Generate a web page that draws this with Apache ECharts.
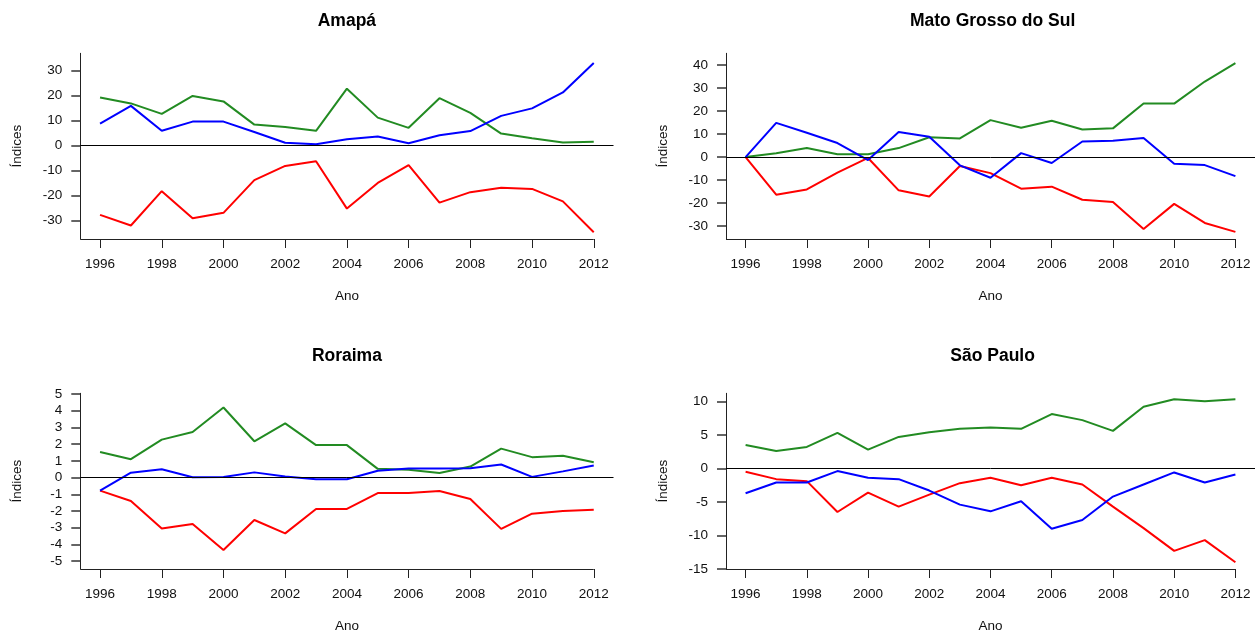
<!DOCTYPE html>
<html>
<head>
<meta charset="utf-8">
<script src="https://cdn.jsdelivr.net/npm/echarts@6/dist/echarts.min.js"></script>
<style>
html,body{margin:0;padding:0;background:#fff;}
#chart{width:1255px;height:634px;}
</style>
</head>
<body>
<div id="chart"></div>
<script>
// ---- data ----
const years = [1996,1997,1998,1999,2000,2001,2002,2003,2004,2005,2006,2007,2008,2009,2010,2011,2012];
const xTickValues = [1996,1998,2000,2002,2004,2006,2008,2010,2012];
const titles = ['Amapá','Mato Grosso do Sul','Roraima','São Paulo'];

const amapaGreen = [19.3,16.9,12.7,19.9,17.7,8.4,7.4,5.9,22.8,11.2,7.1,19.0,13.1,4.8,2.9,1.2,1.5];
const amapaBlue  = [8.8,15.9,5.9,9.6,9.6,5.4,1.1,0.5,2.5,3.6,0.9,4.1,5.8,11.9,14.9,21.3,33.1];
const amapaRed   = [-27.8,-32.1,-18.3,-29.2,-27.0,-13.9,-8.2,-6.3,-25.3,-15.0,-7.9,-22.9,-18.7,-16.9,-17.4,-22.4,-34.8];
const amapaYTicks = [-30,-20,-10,0,10,20,30];

const msGreen = [0,1.7,3.9,1.2,1.2,3.9,8.6,8.1,16.1,12.8,15.8,12.0,12.5,23.3,23.3,32.9,40.9];
const msBlue  = [0,14.9,10.6,6.1,-1.3,10.9,8.8,-3.6,-9.0,1.7,-2.6,6.8,7.1,8.3,-2.9,-3.5,-8.3];
const msRed   = [0,-16.4,-14.1,-6.8,-0.4,-14.5,-17.2,-3.9,-7.0,-13.8,-12.9,-18.6,-19.6,-31.3,-20.4,-28.7,-32.6];
const msYTicks = [-30,-20,-10,0,10,20,30,40];

const roraimaGreen = [1.53,1.1,2.27,2.72,4.19,2.17,3.24,1.94,1.94,0.52,0.47,0.27,0.66,1.73,1.22,1.3,0.91];
const roraimaBlue  = [-0.78,0.29,0.5,0.02,0.04,0.31,0.06,-0.1,-0.1,0.41,0.54,0.54,0.56,0.78,0.04,0.37,0.72];
const roraimaRed   = [-0.78,-1.4,-3.05,-2.78,-4.33,-2.54,-3.34,-1.88,-1.88,-0.93,-0.93,-0.8,-1.28,-3.07,-2.16,-2.0,-1.92];
const roraimaYTicks = [-5,-4,-3,-2,-1,0,1,2,3,4,5];

const spGreen = [3.5,2.6,3.2,5.3,2.8,4.7,5.4,5.9,6.1,5.9,8.1,7.2,5.6,9.2,10.3,10.0,10.3];
const spBlue  = [-3.7,-2.1,-2.1,-0.4,-1.4,-1.6,-3.3,-5.4,-6.4,-4.9,-9.0,-7.7,-4.2,-2.4,-0.6,-2.1,-0.9];
const spRed   = [-0.5,-1.6,-1.9,-6.5,-3.6,-5.7,-3.9,-2.2,-1.4,-2.5,-1.4,-2.4,-5.7,-8.9,-12.3,-10.7,-14.0];
const spYTicks = [-15,-10,-5,0,5,10];

// ---- layout / styling ----
const FONT = '"Liberation Sans", Arial, Helvetica, sans-serif';
const xMin = 1995.36, xMax = 2012.64;
const panels = [
  {title: titles[0], g: amapaGreen, b: amapaBlue, r: amapaRed, ticks: amapaYTicks, yMin: -37.5, yMax: 37.0,
   left: 80.3, top: 53.3, height: 185.7, titleY: 21.5},
  {title: titles[1], g: msGreen, b: msBlue, r: msRed, ticks: msYTicks, yMin: -35.7, yMax: 45.2,
   left: 726, top: 53.3, height: 185.7, titleY: 21.5},
  {title: titles[2], g: roraimaGreen, b: roraimaBlue, r: roraimaRed, ticks: roraimaYTicks, yMin: -5.47, yMax: 5.04,
   left: 80.3, top: 393.3, height: 179.7, titleY: 356},
  {title: titles[3], g: spGreen, b: spBlue, r: spRed, ticks: spYTicks, yMin: -15, yMax: 11.2,
   left: 726, top: 393.3, height: 179.7, titleY: 356}
];
const plotWidth = 533.2;

function pairs(vals){ return years.map((y,i)=>[y, vals[i]]); }

const grid = [], xAxis = [], yAxis = [], series = [], graphic = [];
panels.forEach((p, i) => {
  grid.push({left: p.left, top: p.top, width: plotWidth, height: p.height, containLabel: false});
  xAxis.push({
    type: 'value', gridIndex: i, min: xMin, max: xMax, position: 'bottom',
    axisLine: {show: false, onZero: false},
    axisTick: {show: true, length: 9, lineStyle: {color: '#222', width: 1}, customValues: xTickValues},
    axisLabel: {show: true, customValues: xTickValues, formatter: v => String(v), fontSize: 13.5,
      color: '#111', margin: 18, fontFamily: FONT},
    splitLine: {show: false},
    name: 'Ano', nameLocation: 'middle', nameGap: 50,
    nameTextStyle: {fontSize: 13.5, color: '#111', fontFamily: FONT}
  });
  yAxis.push({
    type: 'value', gridIndex: i, min: p.yMin, max: p.yMax, position: 'left',
    axisLine: {show: true, onZero: false, lineStyle: {color: '#222', width: 1}},
    axisTick: {show: true, length: 9, lineStyle: {color: '#333', width: 1.5}, customValues: p.ticks},
    axisLabel: {show: true, customValues: p.ticks, formatter: v => String(v), fontSize: 13.5,
      color: '#111', margin: 18, fontFamily: FONT},
    splitLine: {show: false},
    name: 'Índices', nameLocation: 'middle', nameGap: 56, nameRotate: 90,
    nameTextStyle: {fontSize: 13.5, color: '#111', fontFamily: FONT}
  });
  const mk = (name, vals, color, extra) => Object.assign({
    type: 'line', name: name, xAxisIndex: i, yAxisIndex: i, data: pairs(vals),
    showSymbol: false, symbol: 'none', clip: false, animation: false,
    lineStyle: {color: color, width: 2}, itemStyle: {color: color}
  }, extra || {});
  series.push(mk('red', p.r, '#FF0000', {
    markLine: {
      silent: true, symbol: 'none', animation: false, label: {show: false},
      data: [
        {yAxis: 0, lineStyle: {color: '#000', width: 1, type: 'solid'}},
        [{coord: [xMin, p.yMin]}, {coord: [2012, p.yMin], lineStyle: {color: '#222', width: 1, type: 'solid'}}]
      ],
      lineStyle: {color: '#222', width: 1, type: 'solid'}
    }
  }));
  series.push(mk('green', p.g, '#228B22'));
  series.push(mk('blue', p.b, '#0000FF'));
  graphic.push({
    type: 'text', x: p.left + plotWidth / 2, y: p.titleY,
    style: {text: p.title, font: 'bold 17.5px ' + FONT, fill: '#000', align: 'center', verticalAlign: 'middle'}
  });
});

const chart = echarts.init(document.getElementById('chart'), null, {renderer: 'canvas'});
chart.setOption({
  animation: false, backgroundColor: '#fff',
  grid: grid, xAxis: xAxis, yAxis: yAxis, series: series, graphic: graphic
});
</script>
</body>
</html>
